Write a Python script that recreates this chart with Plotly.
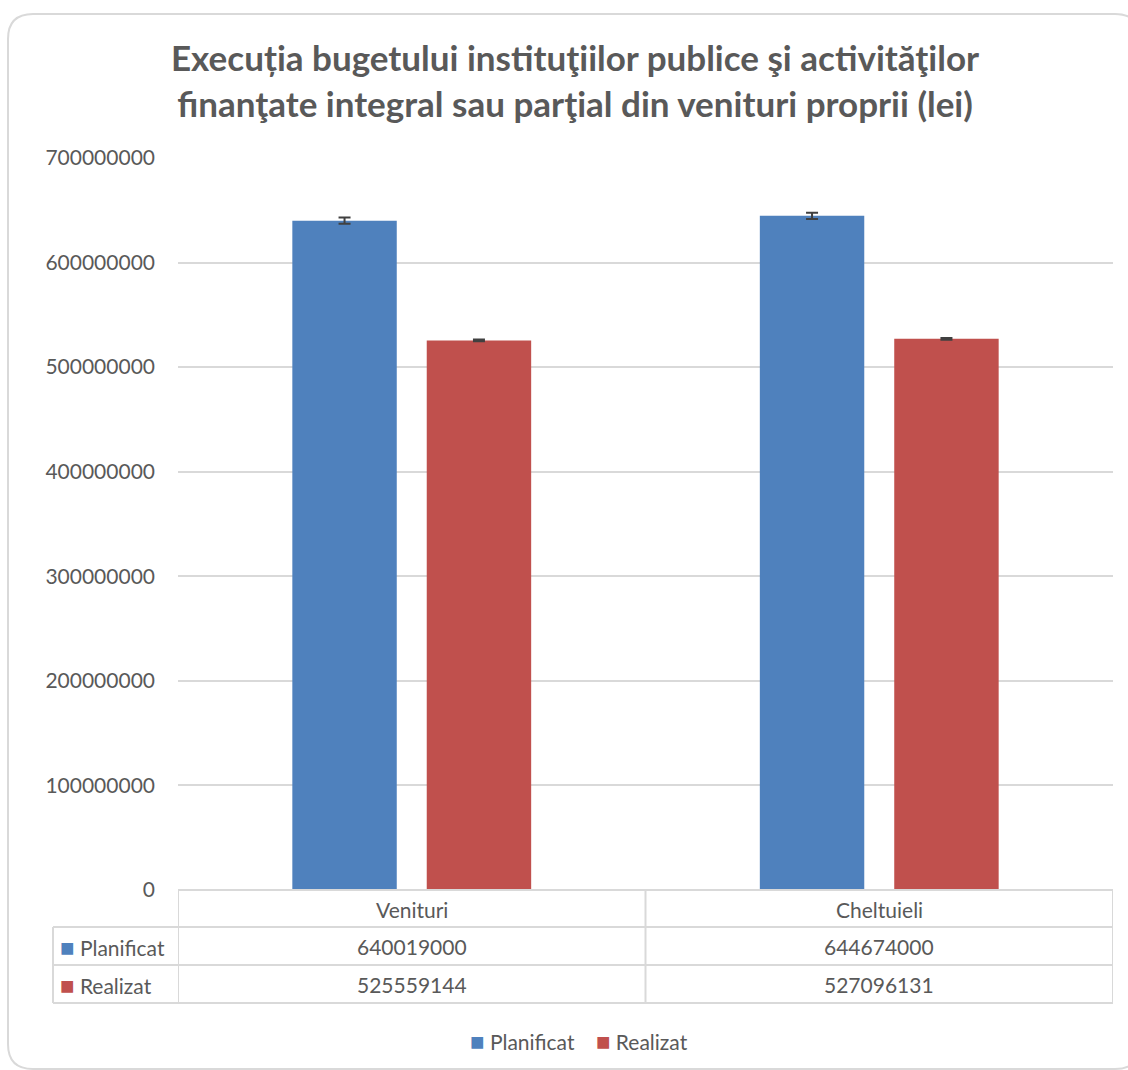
import plotly.graph_objects as go

categories = ["Venituri", "Cheltuieli"]
series_names = ["Planificat", "Realizat"]
planificat = [640019000, 644674000]
realizat = [525559144, 527096131]
err_planificat = [3000000, 3000000]
err_realizat = [800000, 800000]
y_ticks = [0, 100000000, 200000000, 300000000, 400000000, 500000000, 600000000, 700000000]

colors = {"Planificat": "#4F81BD", "Realizat": "#C0504D"}
TXT = "#595959"
GRID = "#D9D9D9"
FONT = "Lato"

W, H = 1128, 1070
L, R, T, B = 178, 15, 158, 180
PW, PH = W - L - R, H - T - B


def X(px):
    return (px - L) / PW


def Y(py):
    return (H - B - py) / PH


def sq(name, size=24):
    return f"<span style='color:{colors[name]};font-size:{size}px'>■</span>"


fig = go.Figure()
for name, vals, errs in [("Planificat", planificat, err_planificat),
                         ("Realizat", realizat, err_realizat)]:
    fig.add_trace(go.Bar(
        name=name, x=categories, y=vals,
        marker=dict(color=colors[name], line=dict(width=0)),
        error_y=dict(type="data", array=errs, color="#404040", thickness=2, width=6),
        hoverinfo="skip",
    ))

shapes = []
# rounded chart border
x0, y0, x1, y1, r = 8, 14, 1140, 1069, 25
path = (f"M {X(x0+r)},{Y(y0)} L {X(x1-r)},{Y(y0)} Q {X(x1)},{Y(y0)} {X(x1)},{Y(y0+r)} "
        f"L {X(x1)},{Y(y1-r)} Q {X(x1)},{Y(y1)} {X(x1-r)},{Y(y1)} "
        f"L {X(x0+r)},{Y(y1)} Q {X(x0)},{Y(y1)} {X(x0)},{Y(y1-r)} "
        f"L {X(x0)},{Y(y0+r)} Q {X(x0)},{Y(y0)} {X(x0+r)},{Y(y0)} Z")
shapes.append(dict(type="path", xref="paper", yref="paper", path=path,
                   line=dict(color="#D9D9D9", width=2), layer="below"))

# data table lines
row_y = [890, 927, 965, 1003]
line = dict(color=GRID, width=2)
for i, py in enumerate(row_y):
    xs = L if i == 0 else 53
    shapes.append(dict(type="line", xref="paper", yref="paper",
                       x0=X(xs), x1=1, y0=Y(py), y1=Y(py), line=line))
shapes.append(dict(type="line", xref="paper", yref="paper",
                   x0=X(53), x1=X(53), y0=Y(927), y1=Y(1003), line=line))
for xb in [-0.5, 0.5, 1.5]:
    shapes.append(dict(type="line", xref="x", yref="paper",
                       x0=xb, x1=xb, y0=Y(890), y1=Y(1003), line=line))

annotations = []
annotations.append(dict(
    text="Execuția bugetului instituţiilor publice şi activităţilor<br>finanţate integral sau parţial din venituri proprii (lei)",
    xref="paper", yref="paper", x=X(575), y=Y(80), xanchor="center", yanchor="middle",
    showarrow=False, font=dict(family=FONT, size=35, color=TXT, weight="bold"),
))
cell_font = dict(family=FONT, size=21, color=TXT)
for c in categories:
    annotations.append(dict(text=c, xref="x", yref="paper", x=c, y=Y(909),
                            showarrow=False, font=cell_font, yanchor="middle"))
for name, vals, py in [("Planificat", planificat, 946), ("Realizat", realizat, 984)]:
    annotations.append(dict(
        text=f"{sq(name)} {name}",
        xref="paper", yref="paper", x=X(58), y=Y(py), xanchor="left", yanchor="middle",
        showarrow=False, font=cell_font))
    for c, v in zip(categories, vals):
        annotations.append(dict(text=str(v), xref="x", yref="paper", x=c, y=Y(py),
                                showarrow=False, font=cell_font, yanchor="middle"))
# legend (drawn as text so the compact Excel-like spacing can be matched)
annotations.append(dict(
    text=f"{sq('Planificat')} {series_names[0]}    {sq('Realizat')} {series_names[1]}",
    xref="paper", yref="paper", x=X(579), y=Y(1040), xanchor="center", yanchor="middle",
    showarrow=False, font=cell_font))

fig.update_layout(
    width=W, height=H,
    margin=dict(l=L, r=R, t=T, b=B, autoexpand=False),
    paper_bgcolor="white", plot_bgcolor="white",
    barmode="group", bargap=0.425, bargroupgap=0.223,
    font=dict(family=FONT, color=TXT),
    shapes=shapes, annotations=annotations,
    showlegend=False, hovermode=False,
    xaxis=dict(range=[-0.5, 1.5], showticklabels=False, showgrid=False,
               zeroline=False, showline=False, fixedrange=True),
    yaxis=dict(range=[0, 700000000], tickvals=y_ticks,
               ticktext=[str(v) for v in y_ticks],
               showgrid=True, gridcolor=GRID, gridwidth=2, zeroline=False,
               showline=False, ticks="", ticklabelstandoff=22, fixedrange=True,
               tickfont=dict(family=FONT, size=21, color=TXT)),
)

fig.write_html("out.html", config={"displayModeBar": False},
               post_script="document.body.style.margin='0px';document.body.style.overflow='hidden';")
